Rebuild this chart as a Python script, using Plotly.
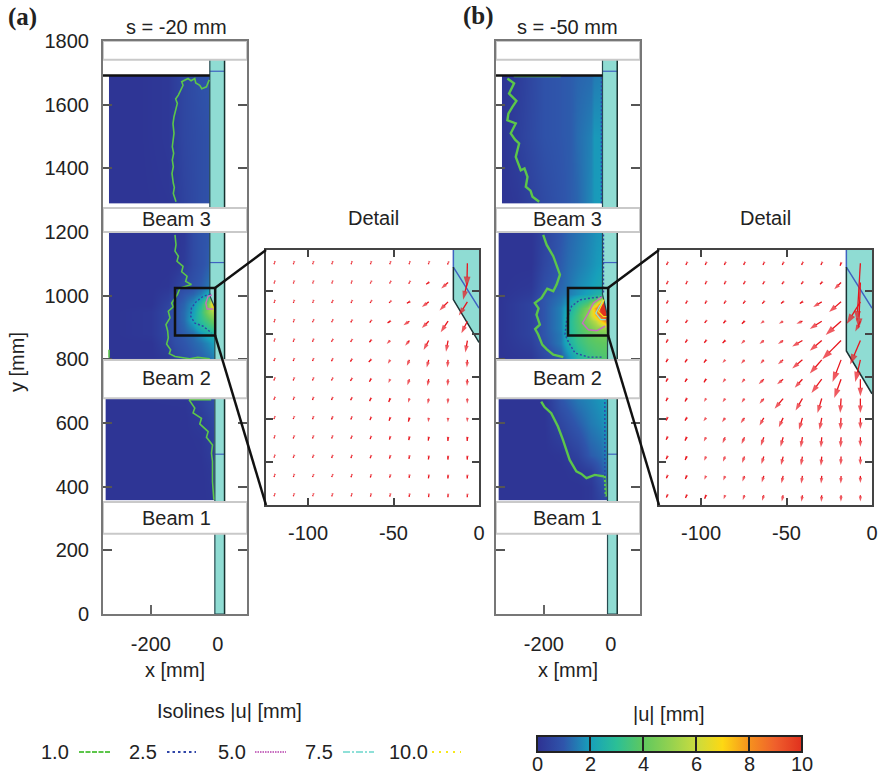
import plotly.graph_objects as go

W, H = 884, 775
FONT = "Liberation Sans"
INK = "#222222"
TEAL = "#8fdcd3"
WALLBLUE = "#3f62c0"
GREEN = "#5cc64a"
BLUE = "#2f45a8"
PURPLE = "#c86fc0"
CYAN = "#8fe0d8"
YELLOW = "#f7e81a"
ARROW = "#e8141c"

COLORSCALE_STOPS = [0, 1, 2, 3, 4, 5, 6, 7, 8, 9, 10]
COLORSCALE_COLORS = ["#2e3192", "#2f55ab", "#17a0bb", "#2bbf96", "#5fc85f", "#92d150",
                     "#c9dc3f", "#fdd813", "#f6921e", "#ef5f2c", "#e0301e"]

Y_TICKS = [0, 200, 400, 600, 800, 1000, 1200, 1400, 1600, 1800]
X_TICKS_MAIN = [-200, 0]
X_LABELS_MAIN = ["-200", "0"]
X_TICKS_DETAIL = [-100, -50, 0]
X_LABELS_DETAIL = ["-100", "-50", "0"]
Y_TICKS_DETAIL = [900, 925, 950, 975, 1000]

# ---- displacement field |u| [mm], panel (a)
A_TOP_X = [-325, -250, -150, -100, -50, -24]
A_TOP_Y = [1290, 1500, 1692]
A_TOP_Z = [[.1, .1, .15, .5, .8, .9],
           [.1, .1, .2, .6, .8, .9],
           [.1, .1, .2, .6, .9, 1.0]]

A_MID_X = [-325, -200, -150, -128, -100, -75, -50, -30, -15, -8]
A_MID_Y = [800, 850, 880, 900, 925, 950, 975, 990, 1005, 1030, 1100, 1200]
A_MID_Z = [[.1, .1, .2, .5, .8, 1.0, 1.1, 1.3, 1.5, 1.5],
           [.1, .1, .5, .8, 1.0, 1.2, 1.4, 1.7, 2.0, 2.0],
           [.1, .2, .6, .9, 1.1, 1.3, 1.8, 2.3, 2.6, 2.7],
           [.1, .2, .6, .9, 1.2, 1.7, 2.5, 3.0, 3.3, 3.4],
           [.1, .2, .6, .9, 1.3, 2.2, 3.0, 3.7, 4.3, 4.5],
           [.1, .2, .6, .9, 1.3, 2.0, 3.2, 4.6, 5.5, 6.0],
           [.1, .1, .5, .9, 1.2, 1.8, 2.8, 4.5, 7.5, 8.0],
           [.1, .1, .4, .8, 1.1, 1.5, 2.2, 3.5, 6.5, 8.0],
           [.1, .1, .3, .7, 1.0, 1.2, 1.6, 2.3, 3.2, 3.5],
           [.1, .1, .15, .4, .7, .9, 1.1, 1.4, 1.6, 1.6],
           [.1, .1, .1, .1, .3, .7, .9, 1.1, 1.2, 1.2],
           [.1, .1, .1, .1, .2, .7, .9, 1.0, 1.0, 1.0]]

A_LOW_X = [-335, -100, -50, -20, -9]
A_LOW_Y = [358, 450, 550, 620, 678]
A_LOW_Z = [[.1, .1, .1, .15, .2],
           [.1, .1, .1, .2, .3],
           [.1, .1, .15, .4, .5],
           [.1, .1, .3, .6, .7],
           [.1, .15, .5, .8, .9]]

# ---- displacement field |u| [mm], panel (b)
B_TOP_X = [-325, -280, -200, -120, -100, -60, -50, -24]
B_TOP_Y = [1290, 1500, 1692]
B_TOP_Z = [[.1, .2, .7, 1.1, 1.2, 1.7, 1.9, 2.0],
           [.1, .4, .9, 1.1, 1.3, 1.6, 1.9, 1.9],
           [.1, .3, .9, 1.1, 1.2, 1.3, 1.5, 1.6]]

B_MID_X = [-335, -240, -200, -150, -128, -100, -70, -45, -25, -12, -6]
B_MID_Y = [800, 850, 880, 900, 920, 940, 960, 975, 990, 1005, 1030, 1100, 1200]
B_MID_Z = [[.1, .2, .6, 1.0, 1.6, 2.6, 3.2, 3.5, 3.6, 3.7, 3.7],
           [.1, .4, .9, 1.5, 2.4, 3.2, 3.7, 3.9, 4.0, 4.0, 4.0],
           [.1, .5, 1.0, 1.5, 2.6, 3.4, 3.9, 4.2, 4.4, 4.5, 4.5],
           [.1, .5, 1.0, 1.6, 2.7, 3.5, 4.3, 5.0, 5.2, 5.3, 5.3],
           [.1, .5, 1.0, 1.6, 2.7, 3.6, 4.8, 5.8, 7.5, 8.5, 8.5],
           [.1, .5, 1.0, 1.6, 2.5, 3.6, 5.0, 7.5, 10, 11, 11],
           [.1, .5, 1.0, 1.6, 2.3, 3.3, 4.6, 8.0, 11, 12, 12],
           [.1, .5, 1.0, 1.5, 2.0, 3.0, 3.8, 6.0, 10, 11, 11],
           [.1, .4, 1.0, 1.4, 1.8, 2.5, 3.0, 3.6, 5.5, 7.0, 7.0],
           [.1, .3, .9, 1.3, 1.5, 1.8, 2.1, 2.5, 2.7, 3.0, 3.0],
           [.1, .2, .8, 1.2, 1.4, 1.7, 1.9, 2.1, 2.3, 2.4, 2.4],
           [.1, .1, .6, 1.1, 1.3, 1.5, 1.7, 1.9, 2.0, 2.0, 2.0],
           [.1, .1, .5, 1.0, 1.2, 1.4, 1.6, 1.8, 1.9, 1.9, 1.9]]

B_LOW_X = [-335, -200, -150, -100, -60, -30, -15, -6]
B_LOW_Y = [358, 400, 450, 500, 600, 678]
B_LOW_Z = [[.1, .1, .1, .1, .2, .5, .6, .8],
           [.1, .1, .1, .1, .2, .7, .9, 1.1],
           [.1, .1, .1, .2, .4, 1.0, 1.3, 1.5],
           [.1, .1, .15, .5, 1.1, 1.3, 1.6, 1.8],
           [.1, .1, .6, 1.1, 1.5, 1.7, 1.9, 2.0],
           [.1, .1, 1.0, 1.5, 1.7, 1.9, 2.0, 2.0]]

# ---- isolines (x, y in mm), None = gap
A_ISO1_X = [-125, -133, -130, -133, -137, -133, -136, -132, -136, -131, -134, -131, -121, -126, -118, -104, -108, -89, -80, -69, -66, -54, -48, -34, -26, None,
            -128, -125, -128, -118, -122, -104, -108, -92, -96, -79, -113, -121, -138, -133, -148, -143, -155, -150, -148, -153, -141, -145, -128, -84, -60, -24, None,
            -86, -78, -69, -74, -49, -54, -29, -34, -16, -19, -16, -16, -12, None, -86, -20, None, -325, -325]
A_ISO1_Y = [1295, 1321, 1340, 1353, 1384, 1405, 1426, 1447, 1468, 1510, 1540, 1562, 1604, 1618, 1630, 1661, 1672, 1682, 1675, 1682, 1668, 1661, 1650, 1656, 1678, None,
            1191, 1160, 1140, 1124, 1108, 1092, 1075, 1061, 1045, 1035, 1024, 1003, 977, 965, 951, 930, 909, 890, 867, 848, 830, 818, 809, 802, 806, 802, None,
            673, 662, 647, 632, 615, 597, 573, 555, 531, 505, 479, 416, 359, None, 673, 673, None, 830, 805]
A_ISO25_X = [-22, -44, -64, -79, -81, -69, -44, -19]
A_ISO25_Y = [1005, 998, 982, 961, 935, 914, 904, 883]
A_ISO5_X = [-18, -29, -36, -32, -14]
A_ISO5_Y = [1002, 998, 977, 958, 958]

B_ISO1_X = [-309, -289, -304, -282, -294, -306, -309, -284, -299, -286, -274, -284, -269, -258, -249, -254, -240, -234, -214, None,
            -202, -192, -172, -162, -152, -162, -172, -190, -207, -227, -216, -222, -212, -226, -217, -205, -192, -172, -142, None,
            -208, -198, -178, -158, -143, -123, -103, -88, -73, -48, -18, -15, None, -290, -150]
B_ISO1_Y = [1682, 1667, 1635, 1612, 1593, 1572, 1551, 1541, 1510, 1490, 1478, 1436, 1394, 1400, 1373, 1342, 1330, 1311, 1295, None,
            1191, 1160, 1124, 1092, 1066, 1035, 1014, 1022, 993, 977, 960, 940, 909, 895, 878, 846, 832, 815, 807, None,
            667, 650, 631, 589, 547, 484, 448, 440, 427, 437, 432, 369, None, 1690, 1690]
B_ISO25_X = [-27, -57, -92, -117, -132, -137, -125, -107, -67, -22, None, -28, -28, None, -18, -18, None, -22, -22]
B_ISO25_Y = [996, 993, 987, 967, 925, 878, 851, 820, 807, 807, None, 1290, 1692, None, 358, 678, None, 1010, 1200]
B_ISO5_X = [-27, -52, -67, -85, -67, -42, -17]
B_ISO5_Y = [996, 977, 946, 914, 893, 890, 904]
B_ISO75_X = [-22, -35, -45, -30, -15]
B_ISO75_Y = [985, 965, 945, 925, 925]
B_ISO10_X = [-20, -30, -37, -22, -13]
B_ISO10_Y = [988, 965, 950, 934, 934]

# ---- wall outline [mm]
A_WALL_X = [-24, 20, 20, -9, -9, -10, -22, -24]
A_WALL_Y = [1800, 1800, 0, 0, 880, 965, 995, 1010]
B_WALL_X = [-25, 19, 19, -10, -10, -12, -25]
B_WALL_Y = [1800, 1800, 0, 0, 880, 945, 1005]
WALL_MARK_Y = [1705, 1104, 502]

A_DET_WALL_X = [-15, 0, 0, -15]
A_DET_WALL_Y = [1024, 1024, 970, 995]
B_DET_WALL_X = [-15, 0, 0, -15]
B_DET_WALL_Y = [1024, 1024, 940, 965]
A_DET_EDGE_Y = [1014, 995, 970]
B_DET_EDGE_Y = [1014, 965, 940]
DET_MARK_X = [-15, -15, 0]
DET_MARK_Y = [1024, 1014, 990]

# ---- displacement vectors in the detail views
GRID_X = [-119.7, -108.4, -97.1, -85.9, -74.6, -63.3, -52.0, -40.7, -29.4, -18.1, -6.8]
GRID_Y = [1016.3, 1005.0, 993.7, 982.4, 971.1, 959.8, 948.5, 937.2, 925.9, 914.6, 903.3, 892.0, 880.7]

A_DX = [[-.2, -.2, -.2, -.2, -.2, -.2, -.2, -.2, -.2, -.3, -.3],
        [-.2, -.2, -.2, -.2, -.2, -.3, -.3, -.4, -1.5, -4, -2.5],
        [-.2, -.2, -.2, -.3, -.3, -.4, -.6, -1.5, -4, -5, -5],
        [-.2, -.2, -.3, -.3, -.4, -.6, -1.5, -3.5, -4, -4.3, -3.5],
        [-.2, -.3, -.3, -.4, -.5, -.8, -2, -2.5, -3, -1.2, -1.2],
        [-.3, -.3, -.3, -.4, -.6, -1.2, -1.3, -1.5, -1.2, -.4, -.3],
        [-.3, -.3, -.3, -.4, -.6, -.8, -1, -1.2, -.8, -.3, -.2],
        [-.3, -.3, -.3, -.4, -.5, -.7, -.8, -.8, -.6, -.2, -.1],
        [-.3, -.3, -.3, -.4, -.4, -.5, -.6, -.6, -.3, -.1, -.1],
        [-.2, -.3, -.3, -.3, -.4, -.4, -.4, -.4, -.3, -.1, -.1],
        [-.2, -.3, -.3, -.3, -.3, -.4, -.4, -.3, -.2, -.1, -.1],
        [-.2, -.2, -.3, -.3, -.3, -.3, -.3, -.2, -.2, -.1, -.1],
        [-.2, -.2, -.2, -.2, -.2, -.2, -.2, -.2, -.1, -.1, -.1]]
A_DY = [[-.6, -.6, -.6, -.6, -.6, -.6, -.6, -.6, -.6, -.7, -14],
        [-.6, -.6, -.6, -.6, -.6, -.6, -.6, -.7, -1, -3.5, -10],
        [-.6, -.6, -.6, -.6, -.6, -.6, -.6, -.8, -3, -5, -8],
        [-.6, -.6, -.6, -.6, -.7, -.8, -1, -2.3, -4, -6.4, -7],
        [-.6, -.7, -.7, -.7, -.8, -1, -2, -3, -5.5, -6.5, -7],
        [-.7, -.7, -.7, -.8, -1, -1.2, -2.2, -3.5, -4.5, -4.5, -4.5],
        [-.7, -.7, -.7, -.8, -1, -1.5, -2.2, -3.5, -4, -4, -4],
        [-.7, -.7, -.8, -.9, -1, -1.5, -2, -2.5, -3.2, -3.2, -3],
        [-.7, -.7, -.8, -.9, -1, -1.3, -1.7, -2.2, -2.6, -2.6, -2.5],
        [-.7, -.7, -.8, -.8, -.9, -1.1, -1.4, -1.7, -2, -2.2, -2.2],
        [-.6, -.7, -.7, -.8, -.9, -1, -1.2, -1.4, -1.7, -1.8, -1.8],
        [-.6, -.6, -.7, -.7, -.8, -.9, -1, -1.2, -1.4, -1.5, -1.5],
        [-.6, -.6, -.6, -.7, -.7, -.8, -.8, -1, -1.1, -1.2, -1.2]]

B_DX = [[-.5, -.5, -.5, -.5, -.5, -.5, -.5, -.5, -.5, -.6, -2],
        [-.5, -.5, -.5, -.5, -.6, -.6, -.7, -.7, -1, -4, -1],
        [-.5, -.6, -.6, -.7, -.8, -.9, -1.2, -1.5, -5, -7, -8],
        [-.6, -.7, -.8, -1, -1.5, -2, -2.5, -3.5, -7, -9, -3],
        [-.7, -.8, -1, -1.5, -2, -2.5, -3, -6, -7, -11, -6],
        [-.8, -1, -1.2, -1.6, -2, -2, -3, -6, -7, -5, -3],
        [-.8, -1, -1.2, -1.5, -1.7, -3, -3.5, -4.5, -6, -4, 0],
        [-.8, -1, -1.2, -1.5, -1.7, -2.5, -5, -4, -2.5, -.5, 0],
        [-.7, -1, -1.5, -1.8, -2.2, -2.5, -2.5, -2, -1.3, -.4, 0],
        [-.7, -1, -1.3, -1.5, -1.7, -1.7, -1.5, -1, -.5, -.3, 0],
        [-.7, -.9, -1.1, -1.3, -1.4, -1.4, -1.2, -.9, -.5, -.2, 0],
        [-.6, -.8, -1, -1.1, -1.2, -1.2, -1, -.7, -.4, -.2, 0],
        [-.6, -.7, -.8, -.9, -1, -1, -.8, -.6, -.3, -.1, 0]]
B_DY = [[-1, -1, -1, -1, -1, -1, -1, -1, -1, -1.5, -34],
        [-1, -1, -1, -1, -1, -1, -1, -1, -1, -4, -27],
        [-1, -1, -1, -1, -1, -1, -1, -1, -3, -6, -13],
        [-1, -1, -1, -1.2, -1.5, -1.5, -1.5, -1.5, -4.5, -8, -6],
        [-1.2, -1.2, -1.3, -1.5, -2, -2, -2, -3.5, -6, -11, -14],
        [-1.3, -1.4, -1.6, -1.8, -2.2, -2.3, -2.5, -5, -8, -13, -13],
        [-1.4, -1.6, -1.8, -2, -2.2, -3, -3, -5, -8, -11, -10],
        [-1.5, -1.7, -2, -2.2, -2.5, -3, -6, -7, -8.5, -8.5, -8.5],
        [-1.5, -1.6, -2, -2.5, -3.2, -4.5, -5.5, -7, -7, -7, -6.5],
        [-1.5, -2, -2.5, -3.5, -4, -5, -5.5, -6, -6, -6, -5.5],
        [-1.5, -2, -2.5, -3, -3.7, -4.4, -5, -5.2, -5.3, -5, -5],
        [-1.4, -1.8, -2.3, -2.7, -3.3, -3.8, -4.3, -4.5, -4.5, -4.4, -4.2],
        [-1.3, -1.6, -2, -2.4, -2.8, -3.2, -3.6, -3.8, -3.9, -3.8, -3.6]]

# ---- labels
PANELS = ["(a)", "(b)"]
TITLES = ["s = -20 mm", "s = -50 mm"]
BEAMS = ["Beam 3", "Beam 2", "Beam 1"]
ISO_LABELS = ["1.0", "2.5", "5.0", "7.5", "10.0"]
ISO_COLORS = [GREEN, BLUE, PURPLE, CYAN, YELLOW]
ISO_DASHES = ["5px,1.5px", "2.5px,3px", "1.5px,1px", "7px,2px,2px,2px", "2px,5px"]
CB_TICKS = [0, 2, 4, 6, 8, 10]

# ---- pixel layout
XR = [-343, 87]
YR = [0, 1800]
BOX_X = [-128, -8]
BOX_Y = [875, 1024]
STRIPS_Y = [(1741, 1800), (1200, 1275), (678, 798), (252, 352)]
BEAM_Y = [1240, 740, 302]
LABEL_X = [-125, -129]
FS = 20
CB_LEFT, CB_RIGHT = 537, 802


def px(x):
    return x / W


def py(y):
    return 1 - y / H


def dom(x0, x1, y0, y1):
    return dict(domain=[px(x0), px(x1)]), dict(domain=[py(y1), py(y0)])


def pad(vals):
    # plotly widens the outer cells of a heatmap by half a cell; a tiny first/last
    # cell keeps the drawn field inside the range that was read from the picture
    return [vals[0], vals[0] + 0.2] + vals[1:-1] + [vals[-1] - 0.2, vals[-1]]


def pad_rows(zs):
    rows = [[r[0], r[0]] + r[1:-1] + [r[-1], r[-1]] for r in zs]
    return [rows[0], rows[0]] + rows[1:-1] + [rows[-1], rows[-1]]


fig = go.Figure()
shapes = []
annots = []


def text(t, x, y, size=FS, **kw):
    annots.append(dict(text=t, x=px(x), y=py(y), xref="paper", yref="paper", showarrow=False,
                       xanchor=kw.pop("xanchor", "center"), yanchor="middle",
                       font=dict(family=kw.pop("family", FONT), size=size, color=INK), **kw))


def field(xs, ys, zs, xa, ya):
    fig.add_trace(go.Heatmap(x=pad(xs), y=pad(ys), z=pad_rows(zs), coloraxis="coloraxis", zsmooth="best",
                             xaxis=xa, yaxis=ya, hoverinfo="skip"))


def line(xs, ys, xa, ya, color, width=1.5, dash="solid", fill=None, fillcolor=None):
    fig.add_trace(go.Scatter(x=xs, y=ys, mode="lines", xaxis=xa, yaxis=ya, showlegend=False,
                             line=dict(color=color, width=width, dash=dash),
                             fill=fill, fillcolor=fillcolor, hoverinfo="skip"))


def main_panel(xa, ya, fields, wall_x, wall_y, isolines):
    for xs, ys, zs in fields:
        field(xs, ys, zs, xa, ya)
    line(wall_x, wall_y, xa, ya, TEAL, 0.1, fill="toself", fillcolor=TEAL)
    for yy in WALL_MARK_Y:
        line([wall_x[0] if yy > 1000 else wall_x[3], wall_x[1]], [yy, yy], xa, ya, WALLBLUE, 1.2)
    line(wall_x[1:3], wall_y[1:3], xa, ya, "#16302e", 1.5)
    line(wall_x[2:] + [wall_x[0]], wall_y[2:] + [wall_y[0]], xa, ya, "#274a50", 1.2)
    for xs, ys, color, width, dash in isolines:
        line(xs, ys, xa, ya, color, width, dash)
    line([XR[0], wall_x[0]], [1692, 1692], xa, ya, "#111111", 2.5)
    for y0, y1 in STRIPS_Y:
        shapes.append(dict(type="rect", xref=xa, yref=ya, x0=XR[0], x1=XR[1], y0=y0, y1=y1,
                           fillcolor="white", line=dict(color="#c9c9c9", width=2), layer="above"))
    shapes.append(dict(type="rect", xref=xa, yref=ya, x0=BOX_X[0], x1=BOX_X[1], y0=BOX_Y[0], y1=BOX_Y[1],
                       fillcolor="rgba(0,0,0,0)", line=dict(color="#111111", width=2.5), layer="above"))


def detail_panel(xa, ya, wall_x, wall_y, edge_y, dx, dy):
    line(wall_x, wall_y, xa, ya, TEAL, 0.1, fill="toself", fillcolor=TEAL)
    line(DET_MARK_X, DET_MARK_Y, xa, ya, WALLBLUE, 1.5)
    line([-15, -15, 0], edge_y, xa, ya, "#1b3234", 1.5)
    xs, ys, sizes = [], [], []
    for j, y in enumerate(GRID_Y):
        for i, x in enumerate(GRID_X):
            u, v = dx[j][i], dy[j][i]
            length = (u * u + v * v) ** 0.5
            xs += [x, x + u, None]
            ys += [y, y + v, None]
            sizes += [0, min(3 + length * 0.6, 11), 0]
    fig.add_trace(go.Scatter(x=xs, y=ys, mode="lines+markers", xaxis=xa, yaxis=ya, showlegend=False,
                             line=dict(color=ARROW, width=1.3),
                             marker=dict(symbol="arrow", angleref="previous", size=sizes, color=ARROW,
                                         line=dict(width=0)),
                             hoverinfo="skip"))


main_panel("x", "y",
           [(A_TOP_X, A_TOP_Y, A_TOP_Z), (A_MID_X, A_MID_Y, A_MID_Z), (A_LOW_X, A_LOW_Y, A_LOW_Z)],
           A_WALL_X, A_WALL_Y,
           [(A_ISO1_X, A_ISO1_Y, GREEN, 1.6, "solid"),
            (A_ISO25_X, A_ISO25_Y, BLUE, 1.4, "2px,2px"),
            (A_ISO5_X, A_ISO5_Y, PURPLE, 1.4, "solid")])
detail_panel("x2", "y2", A_DET_WALL_X, A_DET_WALL_Y, A_DET_EDGE_Y, A_DX, A_DY)
main_panel("x3", "y3",
           [(B_TOP_X, B_TOP_Y, B_TOP_Z), (B_MID_X, B_MID_Y, B_MID_Z), (B_LOW_X, B_LOW_Y, B_LOW_Z)],
           B_WALL_X, B_WALL_Y,
           [(B_ISO1_X, B_ISO1_Y, GREEN, 2.4, "solid"),
            (B_ISO25_X, B_ISO25_Y, BLUE, 1.4, "2px,2px"),
            (B_ISO5_X, B_ISO5_Y, PURPLE, 1.4, "solid"),
            (B_ISO75_X, B_ISO75_Y, CYAN, 1.2, "solid"),
            (B_ISO10_X, B_ISO10_Y, YELLOW, 1.2, "solid")])
detail_panel("x4", "y4", B_DET_WALL_X, B_DET_WALL_Y, B_DET_EDGE_Y, B_DX, B_DY)

for x0, x1 in [(215, 266), (608, 659)]:
    for y0, y1 in [(288, 250), (335, 505)]:
        shapes.append(dict(type="line", xref="paper", yref="paper", x0=px(x0), x1=px(x1), y0=py(y0), y1=py(y1),
                           line=dict(color="#111111", width=2.5), layer="above"))

for (xa, ya), lx in zip([("x", "y"), ("x3", "y3")], LABEL_X):
    for b, by in zip(BEAMS, BEAM_Y):
        annots.append(dict(text=b, x=lx, y=by, xref=xa, yref=ya, showarrow=False,
                           font=dict(family=FONT, size=FS, color=INK)))

text("<b>" + PANELS[0] + "</b>", 22, 17, 25, family="Liberation Serif")
text("<b>" + PANELS[1] + "</b>", 479, 16, 25, family="Liberation Serif")
text(TITLES[0], 176, 27)
text(TITLES[1], 567, 27)
text("Detail", 373, 218)
text("Detail", 765, 218)
text("y [mm]", 17, 362, textangle=-90)
text("x [mm]", 175, 670)
text("x [mm]", 568, 670)
text("Isolines |u| [mm]", 229, 711)
text("|u| [mm]", 669, 714)

LABEL_CX = [55, 143, 232, 319, 408]
KEY_X = [(79, 110), (167, 196), (255, 286), (343, 374), (432, 461)]
for lab, cx, (k0, k1), c, d in zip(ISO_LABELS, LABEL_CX, KEY_X, ISO_COLORS, ISO_DASHES):
    text(lab, cx, 752)
    shapes.append(dict(type="line", xref="paper", yref="paper", x0=px(k0), x1=px(k1), y0=py(752), y1=py(752),
                       line=dict(color=c, width=2.2, dash=d)))

# the colorbar's own labels sit too low at this height, so its labels are placed directly
for t in CB_TICKS:
    text(str(t), CB_LEFT + (CB_RIGHT - CB_LEFT) * t / 10, 764)

main_axis = dict(range=XR, tickvals=X_TICKS_MAIN, ticktext=X_LABELS_MAIN, ticks="inside", ticklen=9, tickwidth=2,
                 tickcolor="#666666", linecolor="#777777", linewidth=2, mirror="ticks", showgrid=False,
                 zeroline=False, tickfont=dict(family=FONT, size=FS, color=INK), ticklabelstandoff=11,
                 layer="below traces")
main_yaxis = dict(range=YR, tickvals=Y_TICKS, ticks="inside", ticklen=9, tickwidth=2, tickcolor="#555555",
                  linecolor="#777777", linewidth=2, mirror="ticks", showgrid=False, zeroline=False,
                  tickfont=dict(family=FONT, size=FS, color=INK), ticklabelstandoff=8)
det_axis = dict(range=[-124.6, 0], tickvals=X_TICKS_DETAIL, ticktext=X_LABELS_DETAIL, ticks="inside", ticklen=7,
                tickwidth=2, tickcolor="#444444", linecolor="#444444", linewidth=2, mirror="ticks", showgrid=False,
                zeroline=False, tickfont=dict(family=FONT, size=FS, color=INK), ticklabelstandoff=9)
det_yaxis = dict(range=BOX_Y, tickvals=Y_TICKS_DETAIL, ticks="inside", ticklen=7, tickwidth=2,
                 tickcolor="#444444", linecolor="#444444", linewidth=2, mirror="ticks", showgrid=False,
                 zeroline=False, showticklabels=False)

xd, yd = dom(103, 247, 41, 614)
xd2, yd2 = dom(266, 479, 250, 505)
xd3, yd3 = dom(496, 640, 41, 614)
xd4, yd4 = dom(659, 872, 250, 505)
yb = dict(main_yaxis)
yb["showticklabels"] = False

fig.update_layout(
    width=W, height=H, margin=dict(l=0, r=0, t=0, b=0, autoexpand=False), autosize=False,
    paper_bgcolor="white", plot_bgcolor="white", showlegend=False,
    xaxis=dict(main_axis, **xd, anchor="y"), yaxis=dict(main_yaxis, **yd, anchor="x"),
    xaxis2=dict(det_axis, **xd2, anchor="y2"), yaxis2=dict(det_yaxis, **yd2, anchor="x2"),
    xaxis3=dict(main_axis, **xd3, anchor="y3"), yaxis3=dict(yb, **yd3, anchor="x3"),
    xaxis4=dict(det_axis, **xd4, anchor="y4"), yaxis4=dict(det_yaxis, **yd4, anchor="x4"),
    coloraxis=dict(
        cmin=0, cmax=10,
        colorscale=[[s / 10, c] for s, c in zip(COLORSCALE_STOPS, COLORSCALE_COLORS)],
        colorbar=dict(orientation="h", x=px((CB_LEFT + CB_RIGHT) / 2), xanchor="center", y=py(736), yanchor="top",
                      len=(CB_RIGHT - CB_LEFT) / W, lenmode="fraction", thickness=16, thicknessmode="pixels",
                      xpad=0, ypad=0, outlinecolor="#222222", outlinewidth=2, borderwidth=0,
                      tickvals=CB_TICKS, ticks="inside", ticklen=16, tickwidth=1.5, tickcolor="#222222",
                      showticklabels=False),
    ),
    shapes=shapes, annotations=annots,
)

fig.write_html("out.html", config={"displayModeBar": False}, post_script="document.body.style.margin='0';")
